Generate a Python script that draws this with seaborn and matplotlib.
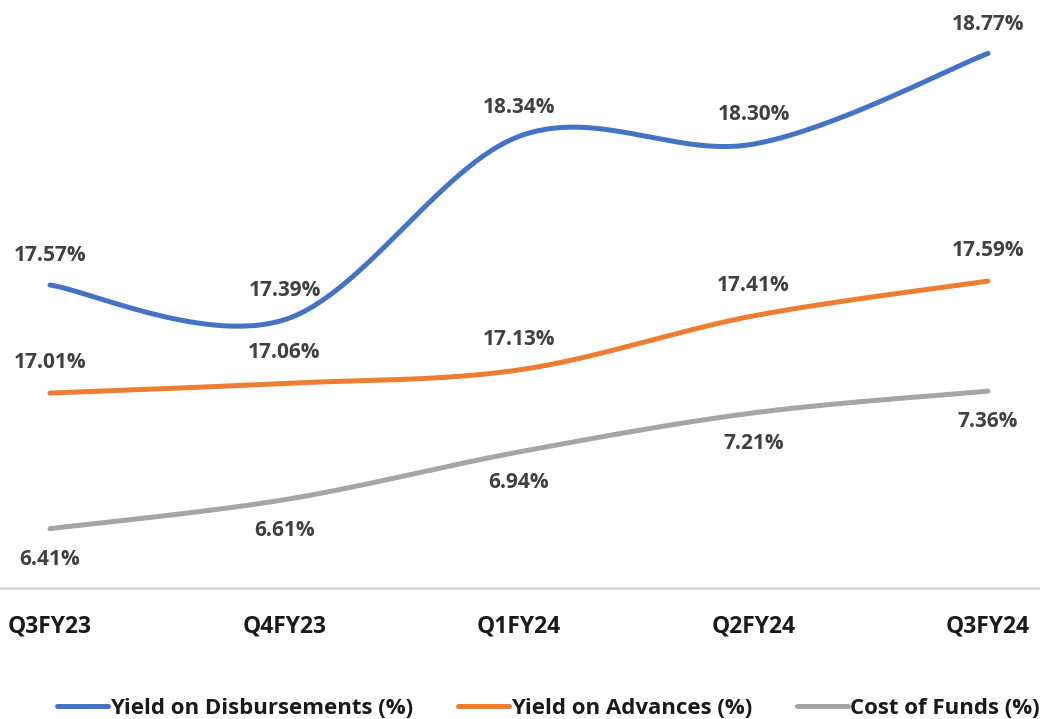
import numpy as np
import pandas as pd
import seaborn as sns
import matplotlib.pyplot as plt

quarters = ['Q3FY23', 'Q4FY23', 'Q1FY24', 'Q2FY24', 'Q3FY24']
yield_disb = [17.57, 17.39, 18.34, 18.30, 18.77]
yield_adv = [17.01, 17.06, 17.13, 17.41, 17.59]
cost_funds = [6.41, 6.61, 6.94, 7.21, 7.36]


def smooth(vals, n=60):
    # excel style smoothed line: bezier segments with catmull-rom handles
    p = np.array(vals, dtype=float)
    x = np.arange(len(p), dtype=float)
    pts = np.column_stack([x, p])
    ext = np.vstack([pts[0], pts, pts[-1]])
    out = []
    for i in range(len(p) - 1):
        p0, p3 = ext[i + 1], ext[i + 2]
        c1 = p0 + (ext[i + 2] - ext[i]) / 6
        c2 = p3 - (ext[i + 3] - ext[i + 1]) / 6
        t = np.linspace(0, 1, n)[:, None]
        seg = (1 - t) ** 3 * p0 + 3 * (1 - t) ** 2 * t * c1 + 3 * (1 - t) * t ** 2 * c2 + t ** 3 * p3
        out.append(seg if i == 0 else seg[1:])
    out = np.vstack(out)
    return out[:, 0], out[:, 1]


sns.set_style('white')
plt.rcParams['font.family'] = ['Open Sans', 'DejaVu Sans']
txt = '#404040'
fs = 15

fig = plt.figure(figsize=(10.4, 7.19), dpi=100)
ax = fig.add_axes([0, 1 - 588 / 719, 1, (588 - 9) / 719])
ax2 = ax.twinx()

blue, orange, grey = '#4472C4', '#ED7D31', '#A5A5A5'

bx, by = smooth(yield_disb)
ox, oy = smooth(yield_adv)
gx, gy = smooth(cost_funds)
sns.lineplot(x=bx, y=by, ax=ax, color=blue, lw=3.6, sort=False, label='Yield on Disbursements (%)', legend=False)
sns.lineplot(x=ox, y=oy, ax=ax, color=orange, lw=3.6, sort=False, label='Yield on Advances (%)', legend=False)
sns.lineplot(x=gx, y=gy, ax=ax2, color=grey, lw=3.6, sort=False, label='Cost of Funds (%)', legend=False)
for l in ax.lines + ax2.lines:
    l.set_solid_capstyle('round')

for i, v in enumerate(yield_disb):
    ax.annotate(f'{v:.2f}%', (i, v), xytext=(0, 21), textcoords='offset points',
                ha='center', va='center', fontsize=fs, fontweight='bold', color=txt)
for i, v in enumerate(yield_adv):
    ax.annotate(f'{v:.2f}%', (i, v), xytext=(0, 22), textcoords='offset points',
                ha='center', va='center', fontsize=fs, fontweight='bold', color=txt)
for i, v in enumerate(cost_funds):
    ax2.annotate(f'{v:.2f}%', (i, v), xytext=(0, -22), textcoords='offset points',
                 ha='center', va='center', fontsize=fs, fontweight='bold', color=txt)

ax.set_xlim(-50 / 234.5, 990 / 234.5)
ax.set_ylim(16, 19)
ax2.set_ylim(6, 10)
ax.set_xticks(range(len(quarters)))
ax.set_xticklabels(quarters, fontsize=16.5, fontweight='bold', color='#1a1a1a')
ax.tick_params(axis='x', length=0, pad=19)
ax.set_yticks([])
ax2.set_yticks([])
for a in (ax, ax2):
    for s in ['top', 'left', 'right', 'bottom']:
        a.spines[s].set_visible(False)
ax.spines['bottom'].set_visible(True)
ax.spines['bottom'].set_color('#D9D9D9')
ax.spines['bottom'].set_linewidth(2)
ax.set_xlabel('')
ax.set_ylabel('')
ax2.set_ylabel('')

handles = ax.lines + ax2.lines
fig.legend(handles, [h.get_label() for h in handles], loc='center', bbox_to_anchor=(0.527, 1 - 708 / 719),
           ncol=3, frameon=False, handlelength=2.3, handletextpad=0.1, columnspacing=2.0,
           prop={'size': 16, 'weight': 'bold'}, labelcolor='#1a1a1a')

fig.savefig('out.png', dpi=100)
